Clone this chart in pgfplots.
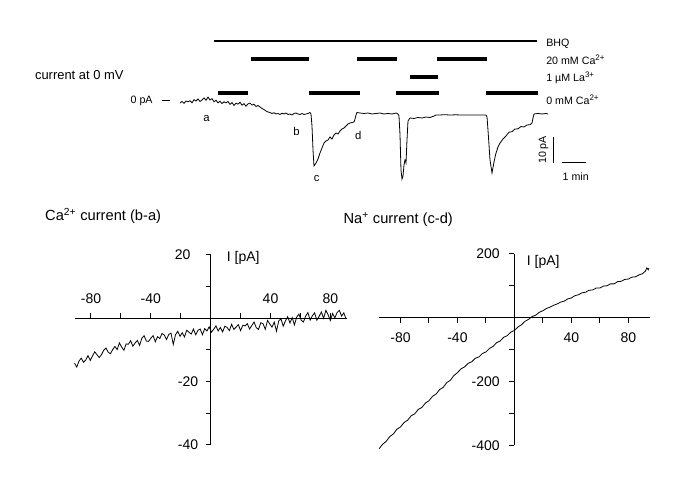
\documentclass[border=0pt]{standalone}
\usepackage{fontspec}
\setmainfont{Liberation Sans}
\usepackage{pgfplots}
\pgfplotsset{compat=1.18}

\newcommand{\fs}[1]{\fontsize{#1}{#1}\selectfont}

% style shared by the two I-V plots
\pgfplotsset{
  iv/.style={
    axis lines=middle, axis line style={-, line width=0.75pt},
    enlargelimits=false, clip=false, anchor=origin,
    tick align=center, major tick length=3.75pt,
    tick style={line width=0.75pt, black},
    tick label style={font=\fs{10.5}, inner sep=0pt},
    /pgf/number format/assume math mode=true,
  },
}

% Na+ current (c-d), I in pA vs V in mV
\pgfplotstableread{
V I
-95 -410
-92.5 -396
-90 -387
-87.5 -372
-85 -364
-82.5 -349
-80 -342
-77.5 -328
-75 -321
-72.5 -307
-70 -301
-67.5 -287
-65 -281
-62.5 -267
-60 -260
-57.5 -246
-55 -239
-52.5 -225
-50 -218
-47.5 -203
-45 -196
-42.5 -181
-40 -172
-37.5 -160
-35 -154
-32.5 -143
-30 -138
-27.5 -127
-25 -123
-22.5 -112
-20 -107
-17.5 -96
-15 -90
-12.5 -78
-10 -73
-7.5 -61
-5 -56
-2.5 -45
0 -40
2.5 -29
5 -22
7.5 -11
10 -5
12.5 4
15 8
17.5 17
20 22
22.5 29
25 33
27.5 39
30 43
32.5 49
35 52
37.5 59
40 62
42.5 69
45 72
47.5 78
50 80
52.5 86
55 87
57.5 93
60 93
62.5 99
65 100
67.5 106
70 106
72.5 113
75 114
77.5 120
80 121
82.5 127
85 128
87.5 134
90 138
92 146
93 156
94 150
94.5 156
}\natable

% Ca2+ current (b-a)
\pgfplotstableread{
V I
-91 -14.2
-89.5 -15.4
-88 -13.5
-86.5 -12.6
-85 -13.9
-83.5 -13.2
-82 -11.8
-80.5 -13.3
-79 -11.9
-77.5 -10.6
-76 -11.5
-74.5 -12.4
-73 -11.5
-71.5 -10.1
-70 -9.4
-68.5 -10.7
-67 -11.2
-65.5 -9.9
-64 -8.9
-62.5 -9.9
-61 -7.8
-59.5 -9.1
-58 -10.1
-56.5 -8.1
-55 -8.2
-53.5 -7.1
-52 -8.8
-50.5 -7.8
-49 -7.0
-47.5 -8.6
-46 -6.3
-44.5 -5.5
-43 -7.2
-41.5 -7.3
-40 -6.3
-38.5 -5.5
-37 -7.4
-35.5 -5.8
-34 -6.4
-32.5 -4.8
-31 -5.3
-29.5 -6.7
-28 -5.1
-26.5 -4.7
-25 -8.3
-23.5 -5.2
-22 -4.1
-20.5 -5.7
-19 -4.6
-17.5 -5.9
-16 -3.8
-14.5 -4.4
-13 -5.0
-11.5 -3.4
-10 -5.2
-8.5 -3.8
-7 -3.4
-5.5 -5.2
-4 -3.3
-2.5 -4.0
-1 -2.7
0.5 -4.4
2 -3.5
3.5 -2.4
5 -4.0
6.5 -2.9
8 -4.3
9.5 -2.5
11 -2.9
12.5 -3.9
14 -1.9
15.5 -3.5
17 -2.8
18.5 -2.0
20 -3.9
21.5 -2.2
23 -2.4
24.5 -1.7
26 -3.4
27.5 -2.3
29 -1.2
30.5 -3.0
32 -3.5
33.5 -1.4
35 -1.7
36.5 -3.5
38 -0.7
39.5 -1.8
41 -2.8
42.5 -1.2
44 -4.1
45.5 -0.8
47 -0.2
48.5 -2.5
50 -0.8
51.5 0.5
53 -1.5
54.5 0.2
56 -2.1
57.5 0.4
59 1.3
60.5 -0.6
62 -1.2
63.5 0.7
65 1.8
66.5 -0.6
68 0.8
69.5 1.7
71 -0.6
72.5 0.6
74 2.0
75.5 0.0
77 2.5
78.5 1.1
80 -0.7
81.5 1.5
83 0.1
84.5 1.8
86 2.5
87.5 0.7
89 1.7
90.5 -0.2
}\catable

% current at 0 mV, t in min, I in pA
\pgfplotstableread{
t I
0 -0.96
0.083 -0.38
0.167 -1.1
0.25 -0.19
0.333 -0.5
0.417 -0.1
0.5 -0.9
0.583 0.3
0.667 -0.2
0.75 0.6
0.833 -0.4
0.917 0.2
1 1.0
1.083 0.1
1.167 1.3
1.25 0.2
1.333 0.7
1.417 -0.5
1.5 0.1
1.583 -0.9
1.667 -0.3
1.75 -1.2
1.833 -0.5
1.917 -0.9
2 -0.4
2.083 -1.5
2.167 -0.8
2.25 -1.9
2.333 -1.0
2.417 -1.4
2.5 -0.7
2.583 -1.8
2.667 -1.2
2.75 -2.2
2.833 -1.3
2.917 -1.0
3 -1.8
3.083 -1.4
3.167 -2.3
3.25 -1.9
3.333 -2.5
3.417 -3.08
3.5 -3.46
3.583 -4.04
3.667 -4.42
3.75 -4.62
3.833 -5.0
3.917 -4.7
4 -5.19
4.083 -5.0
4.167 -5.38
4.25 -4.9
4.333 -5.19
4.417 -4.81
4.5 -5.38
4.583 -5.19
4.667 -5.58
4.75 -5.0
4.833 -4.81
4.917 -5.19
5 -5.38
5.083 -5.0
5.167 -5.38
5.25 -5.19
5.333 -5.0
5.417 -4.62
5.458 -5.19
5.5 -9.81
5.542 -19.04
5.583 -25.19
5.667 -24.04
5.75 -22.5
5.833 -20.19
5.917 -18.27
6 -16.35
6.083 -15.58
6.167 -15.19
6.25 -14.04
6.333 -14.81
6.417 -13.27
6.5 -12.5
6.583 -12.88
6.667 -11.73
6.75 -10.96
6.833 -10.58
6.917 -9.81
7 -9.04
7.083 -8.65
7.167 -8.46
7.25 -8.27
7.292 -7.12
7.333 -5.58
7.375 -4.62
7.5 -4.81
7.667 -5.0
7.833 -4.81
8 -5.19
8.167 -5.0
8.333 -4.81
8.5 -5.19
8.667 -5.0
8.833 -5.19
9 -4.81
9.083 -5.19
9.125 -5.96
9.167 -13.27
9.208 -26.73
9.25 -30.19
9.292 -29.04
9.333 -24.81
9.375 -22.88
9.417 -24.04
9.458 -15.19
9.5 -7.88
9.583 -6.73
9.75 -6.92
9.917 -6.54
10.083 -6.73
10.25 -6.35
10.417 -6.54
10.583 -5.96
10.667 -5.58
10.833 -5.58
11.0 -5.45
11.25 -5.58
11.5 -5.5
11.75 -5.6
12.0 -5.55
12.25 -5.6
12.5 -5.55
12.75 -5.58
12.792 -6.35
12.833 -11.35
12.917 -22.88
13 -27.88
13.083 -23.65
13.167 -20.19
13.25 -17.88
13.333 -16.35
13.458 -14.81
13.583 -13.65
13.708 -12.2
13.833 -12.0
13.958 -10.96
14.083 -10.9
14.208 -10.0
14.333 -10.2
14.458 -9.42
14.583 -9.3
14.667 -8.65
14.708 -6.73
14.75 -5.19
14.917 -5.0
15.083 -5.19
15.25 -5.0
15.333 -5.19
}\trace

\begin{document}
\begin{tikzpicture}[every node/.append style={inner sep=0pt}]
\useasboundingbox (0,0) rectangle (512.25pt,-366pt);

% ---- top: current at 0 mV with solution bars
\begin{axis}[hide axis, clip=false, anchor=origin, at={(135pt,-75.375pt)},
  x=18pt, y=1.95pt, xmin=-7, xmax=17.5, ymin=-32, ymax=25,
  enlargelimits=false, unbounded coords=jump]
  % BHQ
  \addplot[black, line width=1.6pt] coordinates {(1.417,23.0) (14.875,23.0)};
  % 20 mM Ca2+
  \addplot[black, line width=3.2pt] coordinates {
    (2.958,15.85) (5.375,15.85) (5.375,nan)
    (7.375,15.85) (9.042,15.85) (9.042,nan)
    (10.708,15.85) (12.79,15.85)};
  % 1 uM La3+
  \addplot[black, line width=3.2pt] coordinates {(9.583,8.92) (10.75,8.92)};
  % 0 mM Ca2+
  \addplot[black, line width=3.2pt] coordinates {
    (1.583,2.77) (2.833,2.77) (2.833,nan)
    (5.375,2.77) (7.5,2.77) (7.5,nan)
    (9.0,2.77) (10.79,2.77) (10.79,nan)
    (12.75,2.77) (14.917,2.77)};
  % trace
  \addplot[black, line width=0.6pt] table[x=t, y=I] {\trace};
  % zero marker
  \addplot[black, line width=0.75pt] coordinates {(-0.75,0) (-0.417,0)};
  % scale bars
  \addplot[black, line width=0.75pt] coordinates {(15.57,-13.9) (15.57,-23.9)};
  \addplot[black, line width=0.75pt] coordinates {(15.92,-23.9) (16.92,-23.9)};

  \node[anchor=base west, font=\fs{8}] at (15.25,20.7) {BHQ};
  \node[anchor=base west, font=\fs{8}] at (15.25,13.8) {20 mM Ca\textsuperscript{2+}};
  \node[anchor=base west, font=\fs{8}] at (15.25,7.4) {1 µM La\textsuperscript{3+}};
  \node[anchor=base west, font=\fs{8}] at (15.25,-1.6) {0 mM Ca\textsuperscript{2+}};
  \node[anchor=base west, font=\fs{9.7}] at (-6.05,8.0) {current at 0 mV};
  \node[anchor=base east, font=\fs{8}] at (-1.13,-1.3) {0 pA};
  \node[font=\fs{8.5}] at (1.11,-6.85) {a};
  \node[font=\fs{8.5}] at (4.86,-12.0) {b};
  \node[font=\fs{8.5}] at (5.70,-29.9) {c};
  \node[font=\fs{8.5}] at (7.43,-13.3) {d};
  \node[font=\fs{8}, rotate=90] at (15.15,-19.0) {10 pA};
  \node[anchor=base, font=\fs{8}] at (16.49,-30.8) {1 min};
\end{axis}

% ---- bottom left: Ca2+ current
\begin{axis}[iv, at={(158.0pt,-238.7pt)}, x=1.122pt, y=2.375pt,
  xmin=-91, xmax=91, ymin=-40, ymax=20,
  xtick={-80,-60,-40,-20,20,40,60,80}, xticklabels={-80,,-40,,,40,,80},
  ytick={-40,-30,-20,-10,10,20}, yticklabels={-40,,-20,,,20\hphantom{0}},
  xtick style={yshift=1.875pt}, ytick style={xshift=-1.875pt},
  xticklabel style={anchor=center, yshift=16.2pt},
  yticklabel style={anchor=east, xshift=-7.3pt}]
  \addplot[black, line width=0.6pt] table[x=V, y=I] {\catable};
  \node[anchor=base west, font=\fs{11}] at (-110.8,30.9) {Ca\textsuperscript{2+} current (b-a)};
  \node[anchor=base west, font=\fs{10.5}] at (10.7,17.9) {I [pA]};
\end{axis}

% ---- bottom right: Na+ current
\begin{axis}[iv, at={(385.8pt,-238.3pt)}, x=1.068pt, y=0.23955pt,
  xmin=-95, xmax=95, ymin=-400, ymax=200,
  xtick={-80,-60,-40,-20,20,40,60,80}, xticklabels={-80,,-40,,,40,,80},
  ytick={-400,-300,-200,-100,100,200}, yticklabels={-400,,-200,,,200},
  xtick style={yshift=-1.875pt}, ytick style={xshift=-1.875pt},
  xticklabel style={anchor=center, yshift=-13pt},
  yticklabel style={anchor=east, xshift=-9pt}]
  \addplot[black, line width=0.6pt] table[x=V, y=I] {\natable};
  \node[anchor=base west, font=\fs{11}] at (-120.2,294.6) {Na\textsuperscript{+} current (c-d)};
  \node[anchor=base west, font=\fs{10.5}] at (8.6,165) {I [pA]};
\end{axis}
\end{tikzpicture}
\end{document}
